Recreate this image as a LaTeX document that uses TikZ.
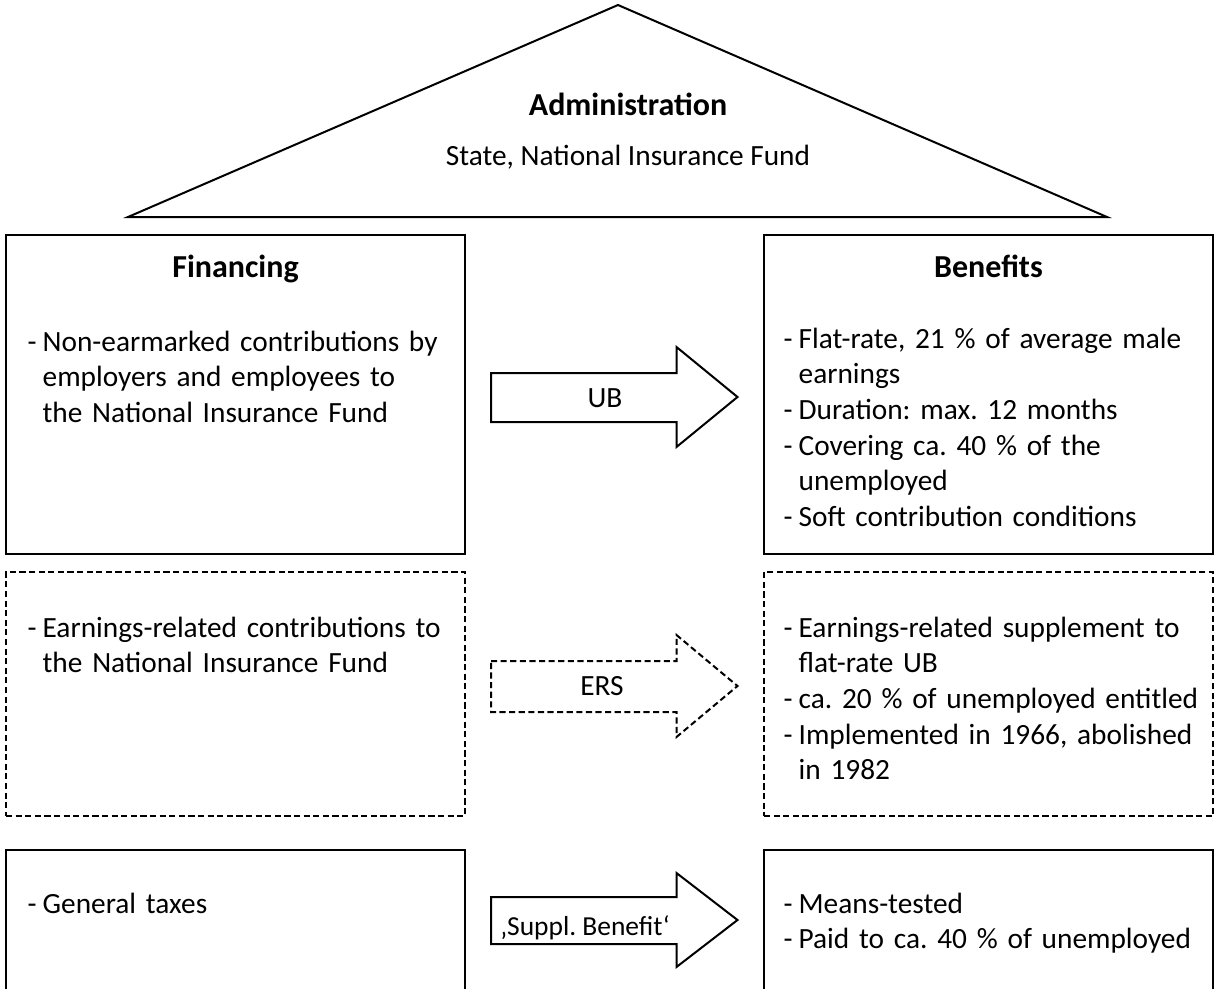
\documentclass[tikz,border=0pt]{standalone}
\usepackage{fontspec}
\setmainfont{Carlito}
\usetikzlibrary{positioning}
\frenchspacing

\newcommand{\itemdash}{-\hspace{2.3pt}}
\newcommand{\itemgap}{\hphantom{\itemdash}}

\tikzstyle{panel} = [rectangle, draw=black, line width=0.75pt, inner sep=0pt, outer sep=0pt]
\tikzstyle{dpanel} = [panel, dash pattern=on 2.3pt off 1.3pt]
\tikzstyle{plain} = [inner sep=0pt, font=\fontsize{11pt}{13.4pt}\selectfont]
\tikzstyle{items} = [plain, text width=170pt, align=left]
\tikzstyle{head} = [inner sep=0pt, font=\fontsize{12pt}{14pt}\selectfont\bfseries]
\tikzstyle{blockarrow} = [draw=black, line width=0.75pt, line join=miter]
\tikzstyle{dblockarrow} = [blockarrow, dash pattern=on 2.3pt off 1.3pt]

\begin{document}
\begin{tikzpicture}[x=0.375pt,y=-0.375pt]
\useasboundingbox (0,0) rectangle (1216,989);

\draw[line width=0.75pt, line join=miter] (618,5) coordinate (apex) -- (1107,217) coordinate (eaveR) -- (128,217) coordinate (eaveL) -- cycle;
\node[head, anchor=base] (admin) at (628,115) {Administration};
\node[plain, anchor=base] (state) at (628,165) {State, National Insurance Fund};

\node[panel, minimum width=172.1pt, minimum height=119.6pt] (fin) at (235.5,394.5) {};
\node[panel, minimum width=168.4pt, minimum height=119.6pt] (ben) at (988.5,394.5) {};
\node[dpanel, minimum width=172.1pt, minimum height=91.5pt] (ersfin) at (235.5,694) {};
\node[dpanel, minimum width=168.4pt, minimum height=91.5pt] (ersben) at (988.5,694) {};
\node[panel, minimum width=172.1pt, minimum height=54.4pt] (tax) at (235.5,922.5) {};
\node[panel, minimum width=168.4pt, minimum height=54.4pt] (means) at (988.5,922.5) {};

\node[head, anchor=base] (finTitle) at (235.5,277) {Financing};
\node[head, anchor=base] (benTitle) at (988.5,277) {Benefits};

\node[items, anchor=base west] (finList) at (27,351) {\itemdash Non-earmarked contributions by\\\itemgap employers and employees to\\\itemgap the National Insurance Fund};
\node[items, anchor=base west] (benList) at (783,348) {\itemdash Flat-rate, 21 \% of average male\\\itemgap earnings\\\itemdash Duration: max. 12 months\\\itemdash Covering ca. 40 \% of the\\\itemgap unemployed\\\itemdash Soft contribution conditions};
\node[items, anchor=base west] (ersFinList) at (27,637) {\itemdash Earnings-related contributions to\\\itemgap the National Insurance Fund};
\node[items, anchor=base west] (ersBenList) at (783,637) {\itemdash Earnings-related supplement to\\\itemgap flat-rate UB\\\itemdash ca. 20 \% of unemployed entitled\\\itemdash Implemented in 1966, abolished\\\itemgap in 1982};
\node[items, anchor=base west] (taxList) at (27,913) {\itemdash General taxes};
\node[items, anchor=base west] (meansList) at (783,913) {\itemdash Means-tested\\\itemdash Paid to ca. 40 \% of unemployed};

\draw[blockarrow] (491,373) -- (676.5,373) -- (676.5,347) -- (737.5,397) -- (676.5,447) -- (676.5,422) -- (491,422) -- cycle;
\draw[dblockarrow] (491,661) -- (676.5,661) -- (676.5,635) -- (737.5,686) -- (676.5,737) -- (676.5,712) -- (491,712) -- cycle;
\draw[blockarrow] (491,897) -- (676.5,897) -- (676.5,873) -- (737.5,920) -- (676.5,967) -- (676.5,944) -- (491,944) -- cycle;

\node[plain, anchor=base] (ubLabel) at (605,407) {UB};
\node[plain, anchor=base] (ersLabel) at (602,695) {ERS};
\node[plain, anchor=base, font=\fontsize{10.3pt}{12pt}\selectfont] (sbLabel) at (585,935) {‚Suppl. Benefit‘};

\end{tikzpicture}
\end{document}
